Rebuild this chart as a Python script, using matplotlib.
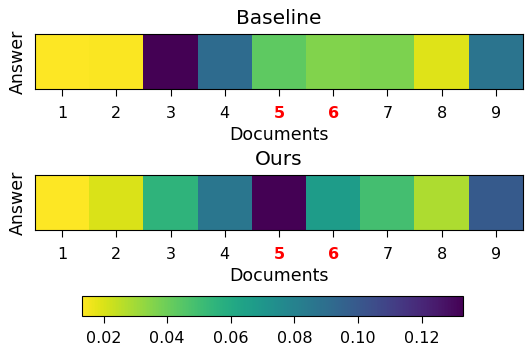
import numpy as np
import matplotlib
matplotlib.use("Agg")
import matplotlib.pyplot as plt
from matplotlib.colors import Normalize

docs = [1, 2, 3, 4, 5, 6, 7, 8, 9]
highlight = [5, 6]

baseline = [0.0135, 0.0138, 0.133, 0.091, 0.043, 0.036, 0.037, 0.019, 0.087]
ours = [0.0132, 0.020, 0.055, 0.086, 0.133, 0.067, 0.049, 0.028, 0.099]

cbar_ticks = [0.02, 0.04, 0.06, 0.08, 0.10, 0.12]

W, H = 526, 347
fig = plt.figure(figsize=(W / 100, H / 100), dpi=100)

norm = Normalize(vmin=0.0132, vmax=0.133)
cmap = "viridis_r"


def ax_rect(x0, y0, x1, y1):
    return [x0 / W, 1 - y1 / H, (x1 - x0) / W, (y1 - y0) / H]


panels = [("Baseline", baseline, ax_rect(35, 34, 523, 89)),
          ("Ours", ours, ax_rect(35, 175, 523, 230))]

for title, vals, rect in panels:
    ax = fig.add_axes(rect)
    im = ax.imshow(np.array(vals)[None, :], cmap=cmap, norm=norm, aspect="auto",
                   extent=[0.5, len(docs) + 0.5, 0, 1])
    ax.set_xticks(docs)
    ax.set_xticklabels([str(d) for d in docs], fontsize=11.5)
    ax.tick_params(axis="x", length=5, pad=7)
    for lbl, d in zip(ax.get_xticklabels(), docs):
        if d in highlight:
            lbl.set_color("red")
            lbl.set_fontweight("bold")
    ax.set_yticks([])
    ax.set_ylabel("Answer", fontsize=12.5, labelpad=6)
    ax.set_xlabel("Documents", fontsize=12.5, labelpad=4)
    ax.set_title(title, fontsize=14.5, pad=7)

cax = fig.add_axes(ax_rect(82, 296, 463, 316))
cb = fig.colorbar(im, cax=cax, orientation="horizontal")
cb.set_ticks(cbar_ticks)
cb.ax.tick_params(labelsize=11.5, length=5, pad=6)

fig.savefig("out.png", dpi=100)
